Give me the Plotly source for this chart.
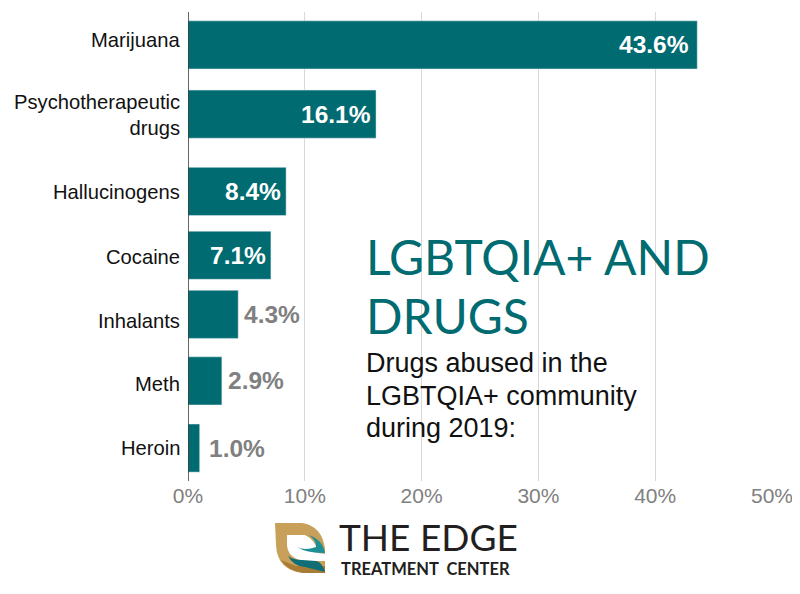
import plotly.graph_objects as go

categories = ['Marijuana', 'Psychotherapeutic<br>drugs', 'Hallucinogens', 'Cocaine',
              'Inhalants', 'Meth', 'Heroin']
values = [43.6, 16.1, 8.4, 7.1, 4.3, 2.9, 1.0]
labels = ['43.6%', '16.1%', '8.4%', '7.1%', '4.3%', '2.9%', '1.0%']
ticks = [0, 10, 20, 30, 40, 50]
tick_labels = ['0%', '10%', '20%', '30%', '40%', '50%']
title_lines = ['LGBTQIA+ AND', 'DRUGS']
subtitle_lines = ['Drugs abused in the', 'LGBTQIA+ community', 'during 2019:']

TEAL = '#006b70'
GREY = '#808080'
INK = '#111111'
FONT = 'Liberation Sans'

# plot area in page pixels
LEFT, RIGHT, TOP, BOTTOM = 188, 772, 12, 481
BODY_PAD = 8  # the page body keeps its default margin
BAR_W = 0.716
STEP = (BOTTOM - TOP) / 6.98
# the original spaces its bars unevenly, nudges are in category units
nudges = [0, 0.03, 0.18, 0.13, 0.01, 0, 0]
name_shifts = [-5, 3, 13, 10, 7, 3, 0]
label_gaps = [-6, -3, -3, -3, 4, 4, 7]


def px(x):
    return (x - LEFT) / (RIGHT - LEFT)


def py(y):
    return (BOTTOM - y) / (BOTTOM - TOP)


def path(points):
    # points are (cmd, x, y, ...) in page pixels, turned into paper coords
    out = []
    for p in points:
        coords = []
        for i in range(1, len(p), 2):
            coords.append(f'{px(p[i]):.4f},{py(p[i + 1]):.4f}')
        out.append(p[0] + ' '.join(coords))
    return ' '.join(out) + ' Z'


def logo_shape(points, color):
    return dict(type='path', xref='paper', yref='paper', path=path(points),
                fillcolor=color, line_width=0, layer='above')


def page_text(x, y, text, family, size, color, weight='normal'):
    return dict(x=px(x), y=py(y), xref='paper', yref='paper', text=text,
                showarrow=False, xanchor='left', yanchor='middle', xshift=-3,
                font=dict(family=family, size=size, color=color, weight=weight))


fig = go.Figure()
fig.add_trace(go.Bar(
    x=values,
    y=list(range(len(categories))),
    orientation='h',
    width=BAR_W,
    offset=[n - BAR_W / 2 for n in nudges],
    marker_color=TEAL,
    hoverinfo='skip',
))

annotations = []
for i, name in enumerate(categories):
    annotations.append(dict(
        x=0, y=i, xref='x', yref='y', text=name, showarrow=False,
        xanchor='right', align='right', xshift=-6, yshift=-name_shifts[i],
        font=dict(family=FONT, size=20.2, color=INK),
    ))
    inside = values[i] > 5
    annotations.append(dict(
        x=values[i], y=i, xref='x', yref='y', text=labels[i], showarrow=False,
        xanchor='right' if inside else 'left', xshift=label_gaps[i],
        yshift=-nudges[i] * STEP,
        font=dict(family=FONT, size=24.5, weight='bold', color='white' if inside else GREY),
    ))

for y, line in zip([257, 315], title_lines):
    annotations.append(page_text(367, y, line, 'Lato', 48, TEAL))
for y, line in zip([363, 396, 428], subtitle_lines):
    annotations.append(page_text(367, y, line, FONT, 27, INK))
annotations.append(page_text(340, 536, 'THE EDGE', 'Lato', 37, '#231f20'))
annotations.append(page_text(342, 568.5, 'TREATMENT  CENTER', 'Lato', 16.5, '#231f20', 'bold'))

shapes = [
    logo_shape([('M', 275, 523), ('L', 302, 523), ('Q', 322, 526, 325, 549),
                ('L', 325, 573), ('L', 303, 573), ('Q', 277, 570, 276, 545)], '#c9a05a'),
    logo_shape([('M', 281, 560), ('Q', 288, 571, 303, 573), ('L', 325, 573),
                ('L', 325, 566), ('L', 296, 566)], '#a97c35'),
    logo_shape([('M', 287, 535), ('L', 305, 535), ('Q', 316, 540, 318, 553),
                ('L', 326, 554), ('L', 326, 561), ('L', 305, 561), ('Q', 288, 559, 287, 545)], 'white'),
    logo_shape([('M', 297, 547), ('Q', 306, 553, 325, 553), ('Q', 323, 540, 309, 535),
                ('Q', 317, 541, 316, 547), ('Q', 305, 551, 297, 547)], '#1f8f96'),
    logo_shape([('M', 288, 556), ('Q', 293, 566, 305, 567), ('L', 325, 572),
                ('Q', 322, 562, 316, 561), ('L', 302, 560), ('Q', 293, 560, 288, 556)], '#0f6e76'),
]

fig.update_layout(
    width=800 - BODY_PAD,
    height=594 - BODY_PAD,
    margin=dict(l=LEFT - BODY_PAD, r=800 - RIGHT, t=TOP - BODY_PAD, b=594 - BOTTOM, pad=0),
    paper_bgcolor='white',
    plot_bgcolor='white',
    showlegend=False,
    annotations=annotations,
    shapes=shapes,
    xaxis=dict(
        range=[0, 50], tickvals=ticks, ticktext=tick_labels, side='bottom',
        showgrid=True, gridcolor='#d8d8d8', gridwidth=1, zeroline=False,
        showline=False, ticks='', tickfont=dict(family=FONT, size=21, color=GREY),
    ),
    yaxis=dict(
        range=[6.49, -0.49], showticklabels=False, showgrid=False, zeroline=False,
        showline=False, ticks='',
    ),
)
fig.add_shape(type='line', xref='x', yref='paper', x0=0, x1=0, y0=0, y1=1,
              line=dict(color='#333333', width=1.5), layer='above')

fig.write_html('out.html')
